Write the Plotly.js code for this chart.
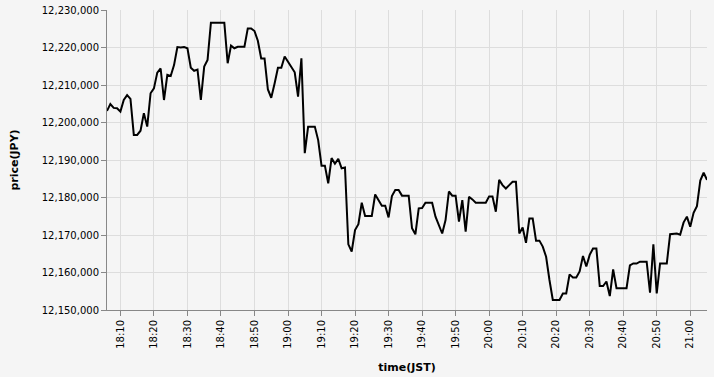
<!DOCTYPE html>
<html><head><meta charset="utf-8">
<script src="https://cdn.plot.ly/plotly-3.0.1.min.js"></script>
<style>html,body{margin:0;padding:0;background:#f5f5f5}#c{width:714px;height:377px}</style>
</head><body><div id="c"></div>
<script>
var times = ["18:06","18:07","18:08","18:09","18:10","18:11","18:12","18:13","18:14","18:15","18:16","18:17","18:18","18:19","18:20","18:21","18:22","18:23","18:24","18:25","18:26","18:27","18:28","18:29","18:30","18:31","18:32","18:33","18:34","18:35","18:36","18:37","18:38","18:39","18:40","18:41","18:42","18:43","18:44","18:45","18:46","18:47","18:48","18:49","18:50","18:51","18:52","18:53","18:54","18:55","18:56","18:57","18:58","18:59",
"19:00","19:01","19:02","19:03","19:04","19:05","19:06","19:07","19:08","19:09","19:10","19:11","19:12","19:13","19:14","19:15","19:16","19:17","19:18","19:19","19:20","19:21","19:22","19:23","19:24","19:25","19:26","19:27","19:28","19:29","19:30","19:31","19:32","19:33","19:34","19:35","19:36","19:37","19:38","19:39","19:40","19:41","19:42","19:43","19:44","19:45","19:46","19:47","19:48","19:49","19:50","19:51","19:52","19:53","19:54","19:55","19:56","19:57","19:58","19:59",
"20:00","20:01","20:02","20:03","20:04","20:05","20:06","20:07","20:08","20:09","20:10","20:11","20:12","20:13","20:14","20:15","20:16","20:17","20:18","20:19","20:20","20:21","20:22","20:23","20:24","20:25","20:26","20:27","20:28","20:29","20:30","20:31","20:32","20:33","20:34","20:35","20:36","20:37","20:38","20:39","20:40","20:41","20:42","20:43","20:44","20:45","20:46","20:47","20:48","20:49","20:50","20:51","20:52","20:53","20:54","20:55","20:56","20:57","20:58","20:59",
"21:00","21:01","21:02","21:03","21:04","21:05"];
var prices = [12203100,12204900,12203900,12203800,12202900,12206000,12207300,12206300,12196700,12196700,
12197800,12202500,12198900,12207800,12209100,12213300,12214400,12206000,12212700,12212400,
12215300,12220100,12220000,12220100,12219800,12214600,12213800,12214100,12206000,12214900,
12216700,12226600,12226600,12226600,12226600,12226600,12215800,12220500,12219800,12220200,
12220200,12220200,12225100,12225100,12224400,12221800,12217100,12217100,12208800,12206600,
12210400,12214600,12214600,12217600,12216200,12214600,12213400,12206900,12217100,12191800,
12198900,12198900,12198900,12195300,12188500,12188500,12183800,12190500,12189000,12190300,
12187800,12188000,12167500,12165600,12171300,12172900,12178600,12175100,12175100,12175100,
12180800,12179300,12177800,12177800,12174700,12180400,12182000,12182000,12180500,12180500,
12180500,12171800,12170200,12177100,12177200,12178600,12178600,12178600,12174900,12172700,
12170400,12174000,12181600,12180500,12180500,12173600,12179300,12170900,12180200,12179500,
12178600,12178600,12178600,12178600,12180300,12180300,12176200,12184700,12183300,12182400,
12183300,12184200,12184200,12170400,12172000,12167900,12174400,12174400,12168500,12168500,
12166900,12164200,12158000,12152700,12152700,12152700,12154400,12154400,12159500,12158700,
12158700,12160300,12164400,12161600,12164700,12166400,12166400,12156400,12156400,12157600,
12153700,12160800,12155800,12155800,12155800,12155800,12161900,12162400,12162400,12162900,
12162900,12162900,12154600,12167500,12154400,12162400,12162400,12162400,12170200,12170200,
12170400,12170100,12173300,12174900,12172200,12175900,12177700,12184500,12186600,12184700];
var day = "2024-01-01 ";
var xs = times.map(function(t){return day + t;});
var FONT = "DejaVu Sans";
var trace = {x: xs, y: prices, type: "scatter", mode: "lines",
  line: {color: "#000", width: 2}, hoverinfo: "x+y"};
var layout = {
  width: 714, height: 377,
  margin: {l: 107, r: 7, t: 10, b: 67},
  paper_bgcolor: "#f5f5f5", plot_bgcolor: "#f5f5f5",
  showlegend: false,
  font: {family: FONT, size: 10, color: "#000"},
  xaxis: {type: "date", range: [xs[0], xs[xs.length-1]],
    tickformat: "%H:%M", dtick: 600000, tick0: day + "18:10", tickangle: -90,
    showgrid: true, gridcolor: "#ddd", gridwidth: 1, zeroline: false,
    showline: true, linecolor: "#888", linewidth: 1,
    ticks: "outside", ticklen: 5, tickcolor: "#888",
    tickfont: {family: FONT, size: 10, color: "#000"},
    title: {text: "time(JST)", font: {family: FONT, size: 11, color: "#000", weight: "bold"}, standoff: 15},
    automargin: false},
  yaxis: {range: [12150000, 12230000], dtick: 10000, tick0: 12150000, tickformat: ",d",
    showgrid: true, gridcolor: "#ddd", gridwidth: 1, zeroline: false,
    showline: true, linecolor: "#888", linewidth: 1,
    ticks: "outside", ticklen: 5, tickcolor: "#888",
    tickfont: {family: FONT, size: 10, color: "#000"},
    title: {text: "price(JPY)", font: {family: FONT, size: 11, color: "#000", weight: "bold"}, standoff: 20},
    automargin: false}
};
Plotly.newPlot("c", [trace], layout, {displayModeBar: false, staticPlot: true});
</script></body></html>
